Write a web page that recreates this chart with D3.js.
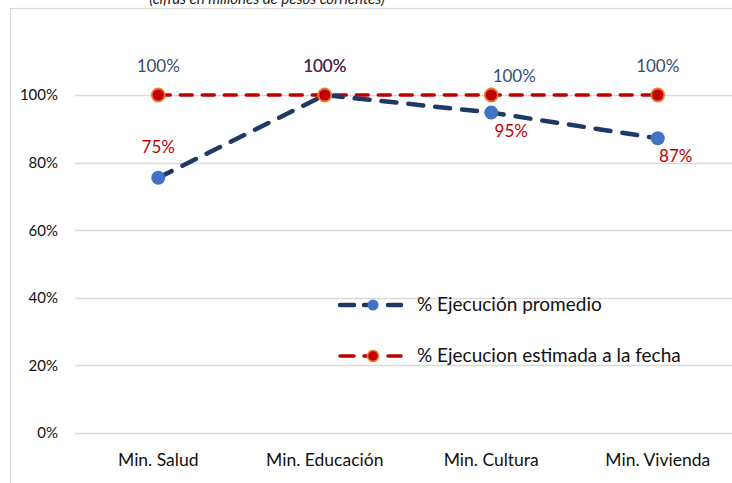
<!DOCTYPE html>
<html><head><meta charset="utf-8">
<script src="https://cdn.jsdelivr.net/npm/d3@7"></script>
<style>body{margin:0;background:#fff;font-family:Lato,"Open Sans",sans-serif;}</style>
</head><body>
<svg id="c" width="732" height="483"></svg>
<script>
const categories = ["Min. Salud", "Min. Educación", "Min. Cultura", "Min. Vivienda"];
const ejecucionPromedio = [0.755, 1.0, 0.948, 0.872];
const ejecucionPromedioLabels = ["75%", "100%", "95%", "87%"];
const ejecucionEstimada = [1.0, 1.0, 1.0, 1.0];
const ejecucionEstimadaLabels = ["100%", "100%", "100%", "100%"];
const yTicks = [0, 0.2, 0.4, 0.6, 0.8, 1.0];
const seriesNames = ["% Ejecución promedio", "% Ejecucion estimada a la fecha"];
const title = "(cifras en millones de pesos corrientes)";

const FONT = "Lato,'Open Sans',sans-serif";
const svg = d3.select("#c");
svg.append("rect").attr("x", 10.5).attr("y", 8.5).attr("width", 740).attr("height", 490)
  .attr("fill", "#fff").attr("stroke", "#D9D9D9").attr("stroke-width", 1.2);
svg.append("text").attr("x", 267).attr("y", 4).attr("text-anchor", "middle").attr("font-family", FONT)
  .attr("font-style", "italic").attr("font-size", 15).attr("fill", "#222").text(title);

const x = d3.scaleBand().domain(categories).range([75, 741]);
const y = d3.scaleLinear().domain([0, 1]).range([433, 95]);
const cx = d => x(d) + x.bandwidth() / 2;

// grid
svg.append("g").selectAll("line").data(yTicks).join("line")
  .attr("x1", 75).attr("x2", 741).attr("y1", d => Math.round(y(d)) + 0.5).attr("y2", d => Math.round(y(d)) + 0.5)
  .attr("stroke", "#D9D9D9").attr("stroke-width", 1.5);

const yAxis = d3.axisLeft(y).tickValues(yTicks).tickFormat(d3.format(".0%")).tickSize(0).tickPadding(0);
const ya = svg.append("g").attr("transform", "translate(58,0)").call(yAxis);
ya.select(".domain").remove();
ya.selectAll("text").attr("font-family", FONT).attr("font-size", 15).attr("fill", "#111");

const xAxis = d3.axisBottom(x).tickSize(0).tickPadding(0);
const xa = svg.append("g").attr("transform", "translate(0,454)").call(xAxis);
xa.select(".domain").remove();
xa.selectAll("text").attr("font-family", FONT).attr("font-size", 17.5).attr("fill", "#111");

const line = d3.line().x((d, i) => cx(categories[i])).y(d => y(d));

// estimated (red)
svg.append("path").datum(ejecucionEstimada).attr("d", line).attr("fill", "none")
  .attr("stroke", "#C00000").attr("stroke-width", 3.5).attr("stroke-dasharray", "12,10").attr("stroke-linecap", "round");
// average (navy)
svg.append("path").datum(ejecucionPromedio).attr("d", line).attr("fill", "none")
  .attr("stroke", "#1F3864").attr("stroke-width", 4.5).attr("stroke-dasharray", "15,12").attr("stroke-linecap", "round");

svg.append("g").selectAll("circle").data(ejecucionPromedio).join("circle")
  .attr("cx", (d, i) => cx(categories[i])).attr("cy", d => y(d)).attr("r", 7).attr("fill", "#4472C4");
svg.append("g").selectAll("circle").data(ejecucionEstimada).join("circle")
  .attr("cx", (d, i) => cx(categories[i])).attr("cy", d => y(d)).attr("r", 6.5)
  .attr("fill", "#C00000").attr("stroke", "#ED7D31").attr("stroke-width", 1.8);

// labels avg (offsets relative to the point)
const avgDx = [0, 0, 20, 18], avgDy = [-31, -30, 18, 17];
svg.append("g").selectAll("text").data(ejecucionPromedio).join("text")
  .attr("x", (d, i) => cx(categories[i]) + avgDx[i]).attr("y", (d, i) => y(d) + avgDy[i])
  .attr("text-anchor", "middle").attr("dominant-baseline", "central").attr("font-family", FONT)
  .attr("font-size", 17).attr("fill", "#C00000").text((d, i) => ejecucionPromedioLabels[i]);
// labels estimated
const estDx = [0, 0, 23, 0], estDy = [-30, -30, -20, -30];
svg.append("g").selectAll("text").data(ejecucionEstimada).join("text")
  .attr("x", (d, i) => cx(categories[i]) + estDx[i]).attr("y", (d, i) => y(d) + estDy[i])
  .attr("text-anchor", "middle").attr("dominant-baseline", "central").attr("font-family", FONT)
  .attr("font-size", 17).attr("fill", "#203864").attr("fill-opacity", 0.92).text((d, i) => ejecucionEstimadaLabels[i]);

// legend
const lg = svg.append("g");
const rows = [
  {name: seriesNames[0], y: 305, stroke: "#1F3864", sw: 4.5, fill: "#4472C4", ms: null},
  {name: seriesNames[1], y: 356, stroke: "#C00000", sw: 3.5, fill: "#C00000", ms: "#ED7D31"}
];
rows.forEach(r => {
  [[340, 354], [364, 368], [388, 401]].forEach(s => lg.append("line").attr("x1", s[0]).attr("x2", s[1])
    .attr("y1", r.y).attr("y2", r.y).attr("stroke", r.stroke).attr("stroke-width", r.sw).attr("stroke-linecap", "round"));
  lg.append("circle").attr("cx", 373).attr("cy", r.y).attr("r", 5.5).attr("fill", r.fill)
    .attr("stroke", r.ms || "none").attr("stroke-width", 1.5);
  lg.append("text").attr("x", 417).attr("y", r.y - 1.5).attr("dominant-baseline", "central").attr("font-family", FONT)
    .attr("font-size", 19).attr("fill", "#111").text(r.name);
});
</script>
</body></html>
